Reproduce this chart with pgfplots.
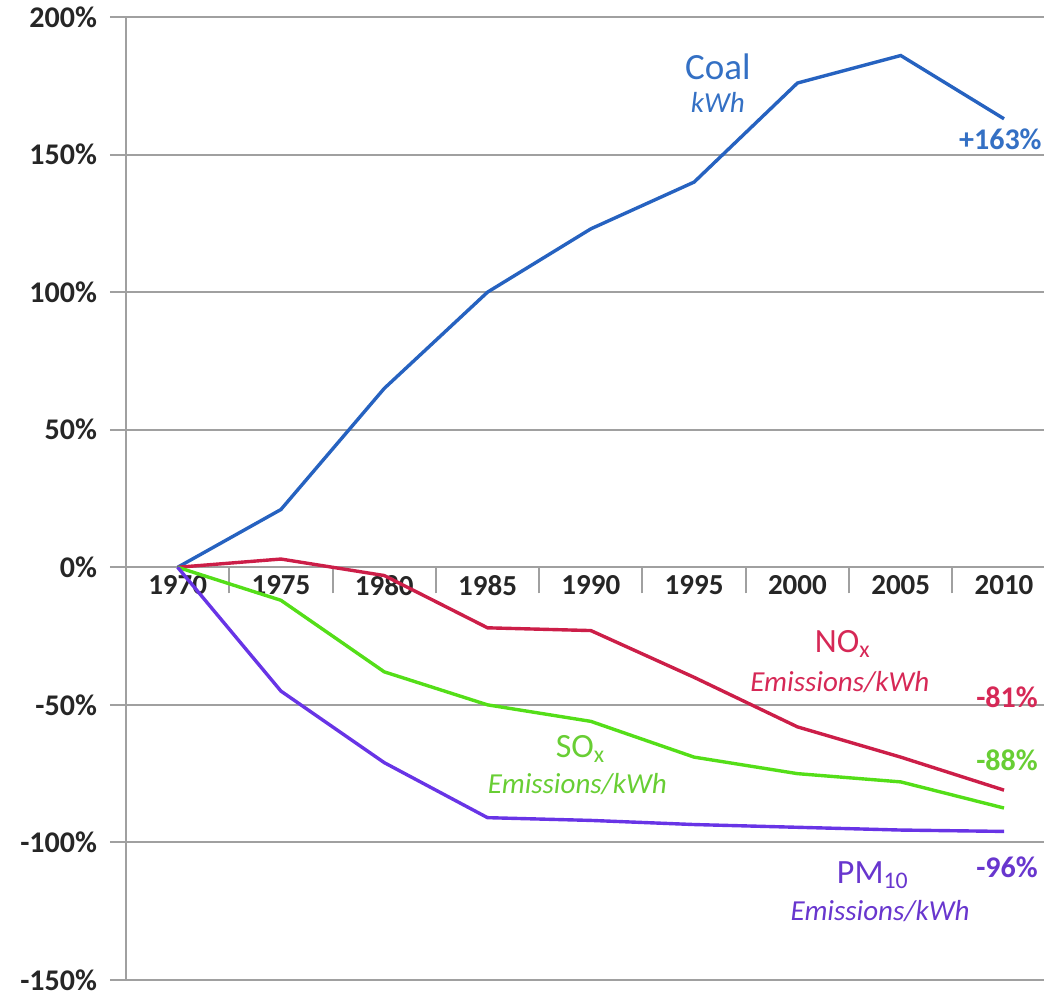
\documentclass[border=0pt]{standalone}
\usepackage{fontspec}
\setmainfont{Carlito}
\usepackage{pgfplots}
\pgfplotsset{compat=1.18}

\definecolor{coal}{RGB}{38,98,192}
\definecolor{coallbl}{RGB}{52,112,196}
\definecolor{nox}{RGB}{204,30,72}
\definecolor{noxlbl}{RGB}{214,40,86}
\definecolor{sox}{RGB}{84,222,24}
\definecolor{soxlbl}{RGB}{104,206,52}
\definecolor{pm}{RGB}{104,52,230}
\definecolor{pmlbl}{RGB}{104,54,206}
\definecolor{gridc}{RGB}{160,160,160}
\definecolor{txt}{RGB}{38,38,38}

\begin{document}
\begin{tikzpicture}
\begin{axis}[
    scale only axis,
    width=459bp, height=481.5bp,
    xmin=-0.5, xmax=8.387,
    ymin=-150, ymax=200,
    axis x line=middle,
    axis y line=left,
    axis line style={gridc, line width=1bp, -},
    every inner x axis line/.append style={-},
    hide obscured x ticks=false,
    hide obscured y ticks=false,
    xtick={0,...,8},
    xticklabels={1970,1975,1980,1985,1990,1995,2000,2005,2010},
    minor x tick num=1,
    major x tick style={draw=none},
    minor x tick style={gridc, line width=1bp},
    minor tick length=13bp,
    ytick={-150,-100,...,200},
    yticklabel={\pgfmathprintnumber{\tick}\%},
    /pgf/number format/assume math mode=true,
    y tick style={gridc, line width=1bp},
    tick align=outside,
    major tick length=8bp,
    ymajorgrids=true,
    grid style={gridc, line width=1bp},
    ticklabel style={font=\fontsize{15bp}{18bp}\selectfont\bfseries, text=txt},
    y tick label style={xshift=-3bp},
    x tick label style={font=\fontsize{14.5bp}{17bp}\selectfont\bfseries, yshift=7.5bp},
    clip=false,
]
\addplot[coal, line width=1.7bp] coordinates {
    (0,0) (1,21) (2,65) (3,100) (4,123) (5,140) (6,176) (7,186) (8,163)
};
\addplot[nox, line width=1.7bp] coordinates {
    (0,0) (1,3) (2,-3) (3,-22) (4,-23) (5,-40) (6,-58) (7,-69) (8,-81)
};
\addplot[sox, line width=1.7bp] coordinates {
    (0,0) (1,-12) (2,-38) (3,-50) (4,-56) (5,-69) (6,-75) (7,-78) (8,-87.5)
};
\addplot[pm, line width=1.7bp] coordinates {
    (0,0) (1,-45) (2,-71) (3,-91) (4,-92) (5,-93.5) (6,-94.5) (7,-95.5) (8,-96)
};

\node[text=coallbl, font=\fontsize{18.5bp}{20bp}\selectfont] at (axis cs:5.23,182) {Coal};
\node[text=coallbl, font=\fontsize{14.5bp}{17bp}\selectfont\itshape] at (axis cs:5.23,169) {kWh};
\node[text=coallbl, font=\fontsize{15bp}{17bp}\selectfont\bfseries, anchor=east, inner sep=1bp] at (axis cs:8.387,155.5) {+163\%};

\node[text=noxlbl, font=\fontsize{17bp}{20bp}\selectfont] at (axis cs:6.44,-27.8) {NO\textsubscript{x}};
\node[text=noxlbl, font=\fontsize{14.5bp}{17bp}\selectfont\itshape] at (axis cs:6.41,-41.6) {Emissions/kWh};
\node[text=noxlbl, font=\fontsize{15bp}{17bp}\selectfont\bfseries, anchor=east, inner sep=1bp] at (axis cs:8.35,-47.4) {-81\%};

\node[text=soxlbl, font=\fontsize{17bp}{20bp}\selectfont] at (axis cs:3.90,-66) {SO\textsubscript{x}};
\node[text=soxlbl, font=\fontsize{14.5bp}{17bp}\selectfont\itshape] at (axis cs:3.87,-78.7) {Emissions/kWh};
\node[text=soxlbl, font=\fontsize{15bp}{17bp}\selectfont\bfseries, anchor=east, inner sep=1bp] at (axis cs:8.35,-70.3) {-88\%};

\node[text=pmlbl, font=\fontsize{17bp}{20bp}\selectfont] at (axis cs:6.73,-112) {PM\textsubscript{10}};
\node[text=pmlbl, font=\fontsize{14.5bp}{17bp}\selectfont\itshape] at (axis cs:6.80,-124.9) {Emissions/kWh};
\node[text=pmlbl, font=\fontsize{15bp}{17bp}\selectfont\bfseries, anchor=east, inner sep=1bp] at (axis cs:8.35,-109) {-96\%};
\end{axis}
\pgfresetboundingbox
\path[use as bounding box] ([xshift=-63bp,yshift=-8.5bp]current axis.south west) rectangle ([yshift=8.5bp]current axis.north east);
\end{tikzpicture}
\end{document}
